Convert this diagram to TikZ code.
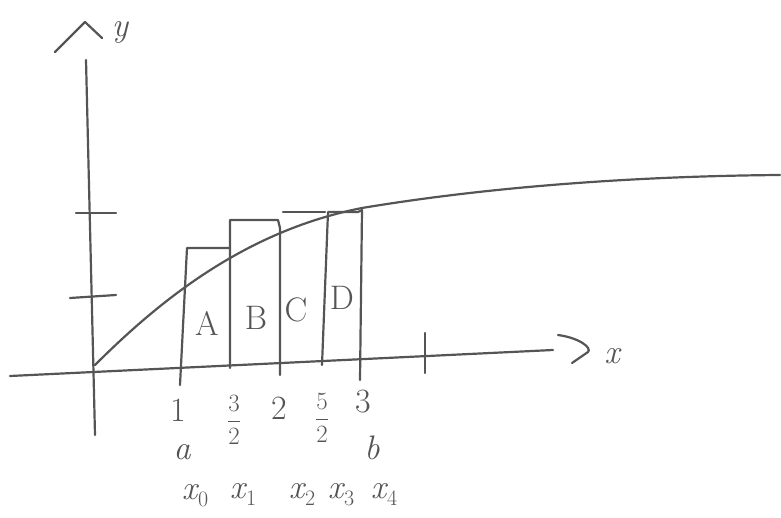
\documentclass[tikz,border=0pt]{standalone}
\usetikzlibrary{calc}
\definecolor{pencil}{HTML}{555555}
\newcommand{\xsub}[1]{{\itshape x}\kern1pt{\fontsize{22}{22}\selectfont\raisebox{-7pt}{#1}}}
\begin{document}
\begin{tikzpicture}[x=1pt,y=-1pt,
  pen/.style={draw=pencil,line width=2.2pt,line cap=round,line join=round},
  lbl/.style={text=pencil,inner sep=0pt,font=\fontsize{34}{36}\selectfont},
  frac/.style={text=pencil,inner sep=0pt,font=\fontsize{24.88}{26}\selectfont}]
\useasboundingbox (0,0) rectangle (781,518);
% axes
\coordinate (yb) at (95,435);
\coordinate (yt) at (86,60);
\coordinate (xl) at (10,376);
\coordinate (xr) at (553,350);
\draw[pen] (yb) -- (yt);
\draw[pen] (xl) -- (xr);
% arrow heads (hand drawn)
\draw[pen] (55,52) -- (85,22) -- (102,38);
\draw[pen] (558,335) .. controls (580,338) and (592,348) .. (588,352) -- (572,363);
\node[lbl] (ylab) at (120,32) {\itshape y};
\node[lbl] (xlab) at (612,356) {\itshape x};
% ticks
\draw[pen] (76,213) -- (116,213);
\draw[pen] (70,298) -- (116,295);
\draw[pen] (425,333) -- (425,373);
% curve
\draw[pen] (95,365) .. controls (165,295) and (250,230) .. (362,208)
  .. controls (500,185) and (650,176) .. (780,175);
% rectangles
\draw[pen] (180,385) -- (187,248) -- (230,248);
\draw[pen] (230,368) -- (230,220) -- (278,220) -- (280,228) -- (280,375);
\draw[pen] (283,212) -- (325,212);
\draw[pen] (322,365) -- (328,212) -- (358,212) -- (362,210) -- (360,380);
% region labels
\node[lbl] (A) at (207,323) {A};
\node[lbl] (B) at (256,318) {B};
\node[lbl] (C) at (296,310) {C};
\node[lbl] (D) at (342,298) {D};
% tick labels
\node[lbl] (one) at (178,410) {1};
\node[frac] (t32) at (234,420) {$\displaystyle\frac{3}{2}$};
\node[lbl] (two) at (279,408) {2};
\node[frac] (t52) at (322,418) {$\displaystyle\frac{5}{2}$};
\node[lbl] (three) at (363,402) {3};
\node[lbl] (a) at (182,452) {\itshape a};
\node[lbl] (b) at (372,448) {\itshape b};
% partition labels
\node[lbl] (x0) at (195,496) {\xsub{0}};
\node[lbl] (x1) at (243,495) {\xsub{1}};
\node[lbl] (x2) at (302,495) {\xsub{2}};
\node[lbl] (x3) at (341,495) {\xsub{3}};
\node[lbl] (x4) at (384,495) {\xsub{4}};
\end{tikzpicture}
\end{document}
